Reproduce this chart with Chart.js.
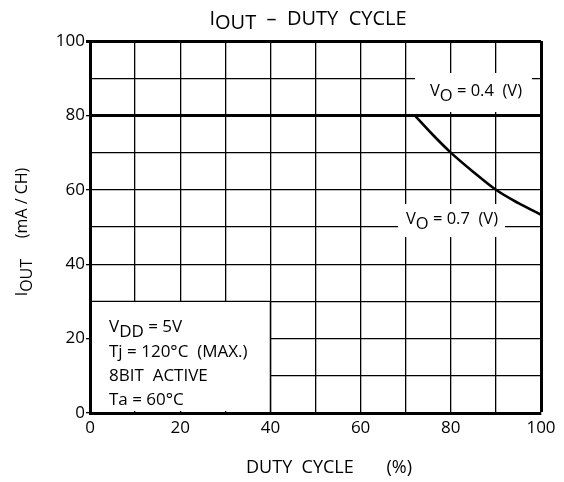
<!DOCTYPE html>
<html>
<head>
<meta charset="utf-8">
<script src="https://cdn.jsdelivr.net/npm/chart.js@4/dist/chart.umd.min.js"></script>
<style>
html,body{margin:0;padding:0;background:#fff;}
#wrap{width:564px;height:482px;position:relative;}
</style>
</head>
<body>
<div id="wrap"><canvas id="c" width="564" height="482"></canvas></div>
<script>
// ---- data ----
const dutyTicks = [0, 20, 40, 60, 80, 100];
const ioutTicks = [0, 20, 40, 60, 80, 100];
const vo04Duty = [0, 100];
const vo04Iout = [80, 80];
const vo07Duty = [72, 76, 80, 85, 90, 95, 100];
const vo07Iout = [80, 74.8, 70, 64.8, 60, 56.4, 53.3];
const seriesLabels = ['0.4', '0.7'];
const conditionLines = [
  [{t:'V'},{t:'DD',sub:true},{t:' = 5V'}],
  [{t:'Tj = 120°C  (MAX.)'}],
  [{t:'8BIT  ACTIVE'}],
  [{t:'Ta = 60°C'}]
];

const FONT = "'Open Sans', 'Noto Sans', sans-serif";

function richWidth(ctx, parts){
  let w=0; for(const p of parts){ w+=ctx.measureText(p.t).width; } return w;
}
function drawRich(ctx, parts, x, y, align, sub){
  const off = sub || 5;
  const w = richWidth(ctx, parts);
  let cx = align==='center' ? x - w/2 : (align==='right' ? x - w : x);
  ctx.textAlign='left';
  for(const p of parts){
    ctx.fillText(p.t, cx, y + (p.sub ? off : 0));
    cx += ctx.measureText(p.t).width;
  }
}

const overlay = {
  id:'overlay',
  beforeDatasetsDraw(chart){
    const {ctx, scales:{x,y}} = chart;
    const x0=x.getPixelForValue(0), x40=x.getPixelForValue(40);
    const y0=y.getPixelForValue(0), y30=y.getPixelForValue(30);
    ctx.save();
    ctx.fillStyle='#fff';
    ctx.fillRect(x0+2, y30, x40-x0-2, y0-y30-2);
    ctx.strokeStyle='#000'; ctx.lineWidth=1.3;
    ctx.beginPath();
    ctx.moveTo(x0, y30); ctx.lineTo(x40, y30);
    ctx.moveTo(x40, y30); ctx.lineTo(x40, y0);
    ctx.stroke();
    // condition text
    ctx.fillStyle='#000';
    ctx.font = "17px " + FONT;
    ctx.textBaseline='alphabetic';
    const ys=[332,357,381,405];
    conditionLines.forEach((ln,i)=>drawRich(ctx, ln, 109, ys[i], 'left'));
    ctx.restore();
  },
  afterDatasetsDraw(chart){
    const {ctx, scales:{x,y}} = chart;
    ctx.save();
    // label boxes
    ctx.fillStyle='#fff';
    ctx.fillRect(415, 73, 117, 39);
    ctx.fillRect(398, 204, 107, 33);
    ctx.fillStyle='#000';
    ctx.font = "16.5px " + FONT;
    ctx.textBaseline='alphabetic';
    drawRich(ctx, [{t:'V'},{t:'O',sub:true},{t:' = '+seriesLabels[0]+'  (V)'}], 476, 96, 'center');
    drawRich(ctx, [{t:'V'},{t:'O',sub:true},{t:' = '+seriesLabels[1]+'  (V)'}], 452, 224, 'center');
    ctx.restore();
  },
  afterDraw(chart){
    const {ctx} = chart;
    ctx.save();
    ctx.fillStyle='#000';
    ctx.textBaseline='alphabetic';
    // title
    ctx.font = "20px " + FONT;
    drawRich(ctx, [{t:'I'},{t:'OUT',sub:true},{t:'  –  DUTY  CYCLE'}], 308, 25, 'center', 4);
    // x title
    ctx.font = "18px " + FONT;
    drawRich(ctx, [{t:'DUTY  CYCLE       (%)'}], 329, 473, 'center');
    // y title
    ctx.font = "16px " + FONT;
    ctx.translate(27, 232);
    ctx.rotate(-Math.PI/2);
    drawRich(ctx, [{t:'I'},{t:'OUT',sub:true},{t:'     (mA / CH)'}], 0, 0, 'center');
    ctx.restore();
  }
};

new Chart(document.getElementById('c'), {
  type:'scatter',
  data:{
    datasets:[
      {label:'VO=0.4', data: vo04Duty.map((v,i)=>({x:v,y:vo04Iout[i]})), showLine:true, borderColor:'#000', borderWidth:3, pointRadius:0, fill:false},
      {label:'VO=0.7', data: vo07Duty.map((v,i)=>({x:v,y:vo07Iout[i]})), showLine:true, borderColor:'#000', borderWidth:2.6, pointRadius:0, fill:false, cubicInterpolationMode:'monotone'}
    ]
  },
  options:{
    responsive:false,
    animation:false,
    layout:{padding:{left:0, top:41, right:23, bottom:0}},
    plugins:{legend:{display:false}, tooltip:{enabled:false}, title:{display:false}},
    scales:{
      x:{
        type:'linear', min:0, max:100,
        afterFit(s){ s.height = 69; },
        afterBuildTicks(s){ s.ticks = []; for(let v=0; v<=100; v+=10) s.ticks.push({value:v}); },
        ticks:{ color:'#000', font:{family:FONT, size:17}, padding:5, maxRotation:0, autoSkip:false,
          callback:(v)=> dutyTicks.includes(v) ? String(v) : '' },
        grid:{ color:'#000', drawTicks:false,
          lineWidth:(c)=> (c.tick && c.tick.value===100) ? 3 : 1.3 },
        border:{ color:'#000', width:3 }
      },
      y:{
        type:'linear', min:0, max:100,
        afterFit(s){ s.width = 90; },
        afterBuildTicks(s){ s.ticks = []; for(let v=0; v<=100; v+=10) s.ticks.push({value:v}); },
        ticks:{ color:'#000', font:{family:FONT, size:17}, padding:1, autoSkip:false,
          callback:(v)=> ioutTicks.includes(v) ? String(v) : '' },
        grid:{ color:'#000', tickLength:4,
          tickColor:(c)=> (c.tick && ioutTicks.includes(c.tick.value)) ? '#000' : 'rgba(0,0,0,0)',
          lineWidth:(c)=> (c.tick && c.tick.value===100) ? 3 : 1.3 },
        border:{ color:'#000', width:3 }
      }
    }
  },
  plugins:[overlay]
});
</script>
</body>
</html>
